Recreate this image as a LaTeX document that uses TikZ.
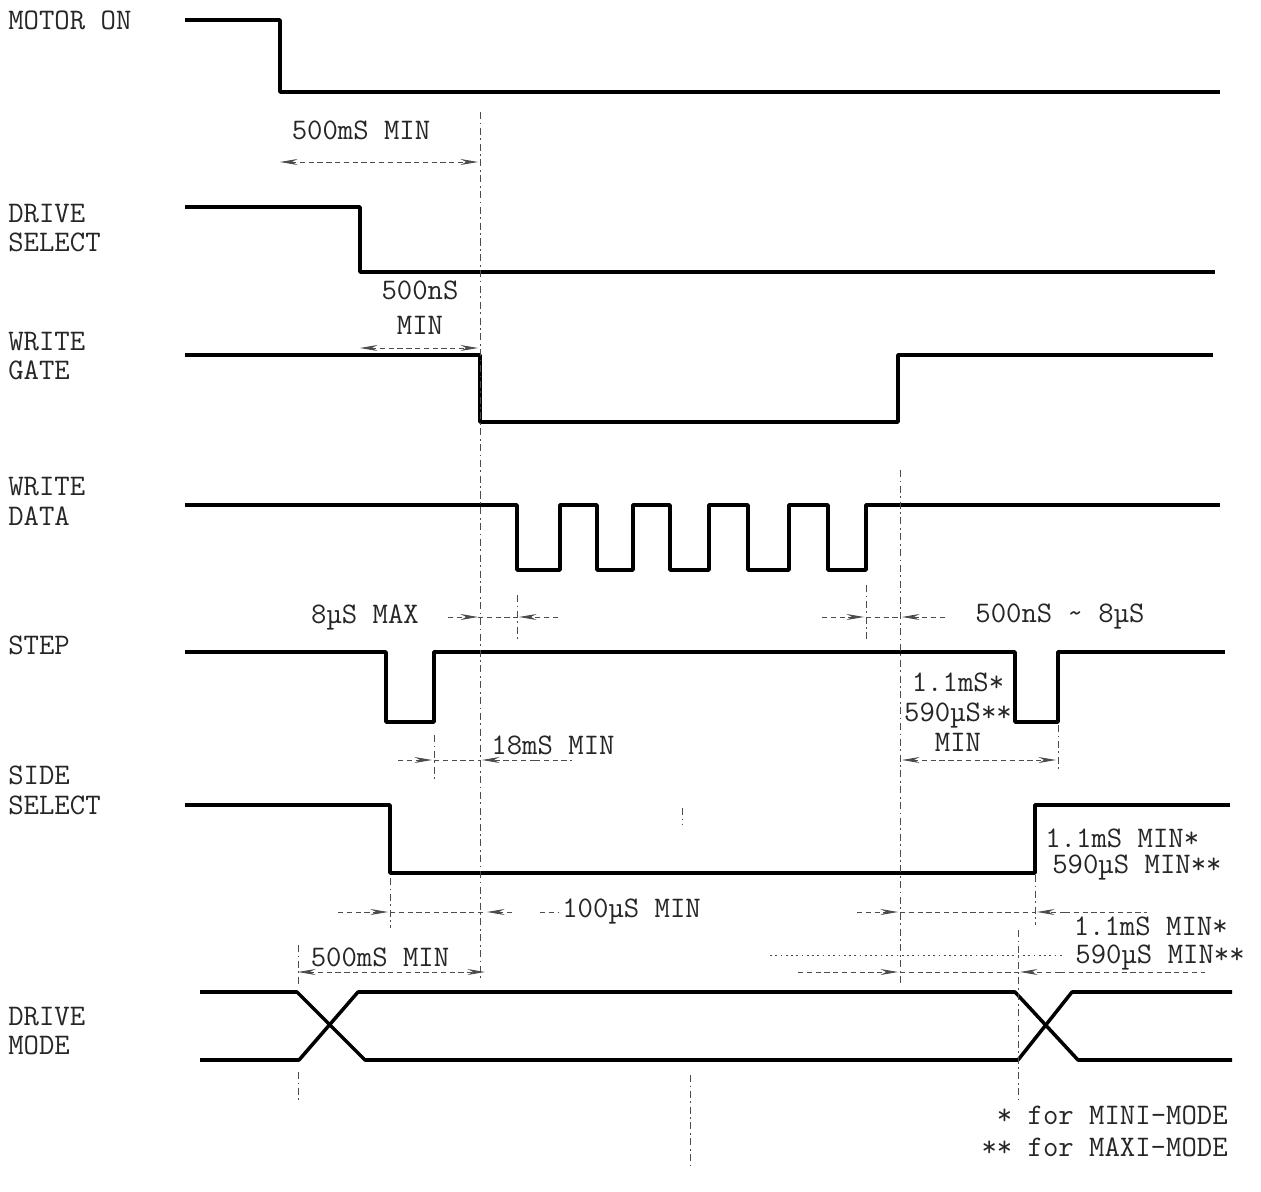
\documentclass[tikz,border=0pt]{standalone}
\usepackage{tikz}
\usetikzlibrary{arrows.meta}

\begin{document}
\begin{tikzpicture}[x=0.02cm, y=-0.02cm,
  sig/.style={line width=2pt, line join=round},
  dim/.style={black!70, line width=0.5pt, dash pattern=on 3pt off 2pt},
  refline/.style={black!70, line width=0.5pt, dash pattern=on 4pt off 2pt on 1pt off 2pt},
  dimarrow/.style={-{Stealth[length=3.5mm, width=1.2mm]}},
  dimboth/.style={{Stealth[length=3.5mm, width=1.2mm]}-{Stealth[length=3.5mm, width=1.2mm]}},
  txt/.style={black!85, font=\fontsize{17}{17}\selectfont\ttfamily, inner sep=0pt},
  lbl/.style={txt, anchor=west, align=left}]
 \useasboundingbox (0,0) rectangle (1261,1192);
 % signal names
 \node[lbl] (motor) at (8,20) {MOTOR ON};
 \node[lbl] (dsel) at (8,228) {DRIVE\\SELECT};
 \node[lbl] (wgate) at (8,356) {WRITE\\GATE};
 \node[lbl] (wdata) at (8,501) {WRITE\\DATA};
 \node[lbl] (step) at (8,645) {STEP};
 \node[lbl] (ssel) at (8,790) {SIDE\\SELECT};
 \node[lbl] (dmode) at (8,1031) {DRIVE\\MODE};
 % waveforms
 \draw[sig] (185,20) -- (280,20) -- (280,92) -- (1220,92);
 \draw[sig] (185,207) -- (360,207) -- (360,272) -- (1215,272);
 \draw[sig] (185,355) -- (480,355) -- (480,422) -- (898,422) -- (898,355) -- (1213,355);
 \draw[sig] (185,505) \foreach \a/\b in {517/560,597/633,670/709,748/789,828/866}{
   -- (\a,505) -- (\a,570) -- (\b,570) -- (\b,505)} -- (1220,505);
 \draw[sig] (185,652) -- (386,652) -- (386,722) -- (434,722) -- (434,652)
   -- (1015,652) -- (1015,722) -- (1058,722) -- (1058,652) -- (1225,652);
 \draw[sig] (185,805) -- (390,805) -- (390,873) -- (1035,873) -- (1035,805) -- (1230,805);
 \draw[sig] (200,992) -- (297,992) -- (365,1060) -- (1018,1060) -- (1072,992) -- (1232,992);
 \draw[sig] (200,1060) -- (299,1060) -- (358,992) -- (1015,992) -- (1078,1060) -- (1232,1060);
 % reference lines
 \draw[refline] (480,112) -- (480,978);
 \draw[refline] (900,470) -- (900,985);
 \draw[refline] (517,595) -- (517,640);
 \draw[refline] (866,585) -- (866,640);
 \draw[refline] (434,735) -- (434,780);
 \draw[refline] (1058,725) -- (1058,772);
 \draw[refline] (390,878) -- (390,928);
 \draw[refline] (1035,875) -- (1035,925);
 \draw[refline] (1018,930) -- (1018,1100);
 \draw[refline] (298,945) -- (298,985);
 \draw[refline] (298,1072) -- (298,1100);
 \draw[refline] (682,808) -- (682,825);
 \draw[refline] (690,1075) -- (690,1165);
 % timings
 \node[txt] (t1) at (361,130) {500mS MIN};
 \draw[dim, dimboth] (280,162) -- (478,162);
 \node[txt] (t2) at (420,290) {500nS};
 \node[txt] (t2b) at (420,325) {MIN};
 \draw[dim, dimboth] (360,348) -- (478,348);
 \node[txt] (t3) at (365,617) {8µS MAX};
 \draw[dim, dimarrow] (448,617) -- (478,617);
 \draw[dim] (478,617) -- (517,617);
 \draw[dim, dimarrow] (558,617) -- (519,617);
 \draw[dim, dimarrow] (822,617) -- (864,617);
 \draw[dim] (866,617) -- (900,617);
 \draw[dim, dimarrow] (945,617) -- (902,617);
 \node[txt] (t4) at (1060,617) {500nS \textasciitilde{} 8µS};
 \node[txt] (t5) at (553,745) {18mS MIN};
 \draw[dim, dimarrow] (398,760) -- (432,760);
 \draw[dim] (434,760) -- (480,760);
 \draw[dim, dimarrow] (535,760) -- (482,760);
 \draw[dim] (535,760) -- (572,760);
 \node[txt, align=center] (t6) at (958,712) {1.1mS*\\590µS**\\MIN};
 \draw[dim, dimboth] (902,760) -- (1056,760);
 \node[txt, anchor=west] (t7) at (1045,838) {1.1mS MIN*};
 \node[txt, anchor=west] (t8) at (1052,868) {590µS MIN**};
 \draw[dim, dimarrow] (338,912) -- (388,912);
 \draw[dim] (390,912) -- (485,912);
 \draw[dim, dimarrow] (512,912) -- (487,912);
 \draw[dim] (540,912) -- (558,912);
 \node[txt, anchor=west] (t9) at (562,912) {100µS MIN};
 \draw[dim, dimarrow] (857,912) -- (898,912);
 \draw[dim] (900,912) -- (1035,912);
 \draw[dim, dimarrow] (1065,912) -- (1037,912);
 \draw[dim] (1065,912) -- (1147,912);
 \node[txt, anchor=east] (t10) at (1228,926) {1.1mS MIN*};
 \node[txt, anchor=east] (t11) at (1245,958) {590µS MIN**};
 \draw[dim, dash pattern=on 1pt off 2pt] (770,955) -- (1062,955);
 \draw[dim, dimarrow] (798,972) -- (898,972);
 \draw[dim] (900,972) -- (1018,972);
 \draw[dim, dimarrow] (1060,972) -- (1020,972);
 \draw[dim] (1060,972) -- (1205,972);
 \node[txt] (t12) at (380,957) {500mS MIN};
 \draw[dim, dimboth] (298,972) -- (485,972);
 % notes
 \node[txt, anchor=east] (n1) at (1228,1115) {* for MINI-MODE};
 \node[txt, anchor=east] (n2) at (1228,1147) {** for MAXI-MODE};
\end{tikzpicture}
\end{document}
